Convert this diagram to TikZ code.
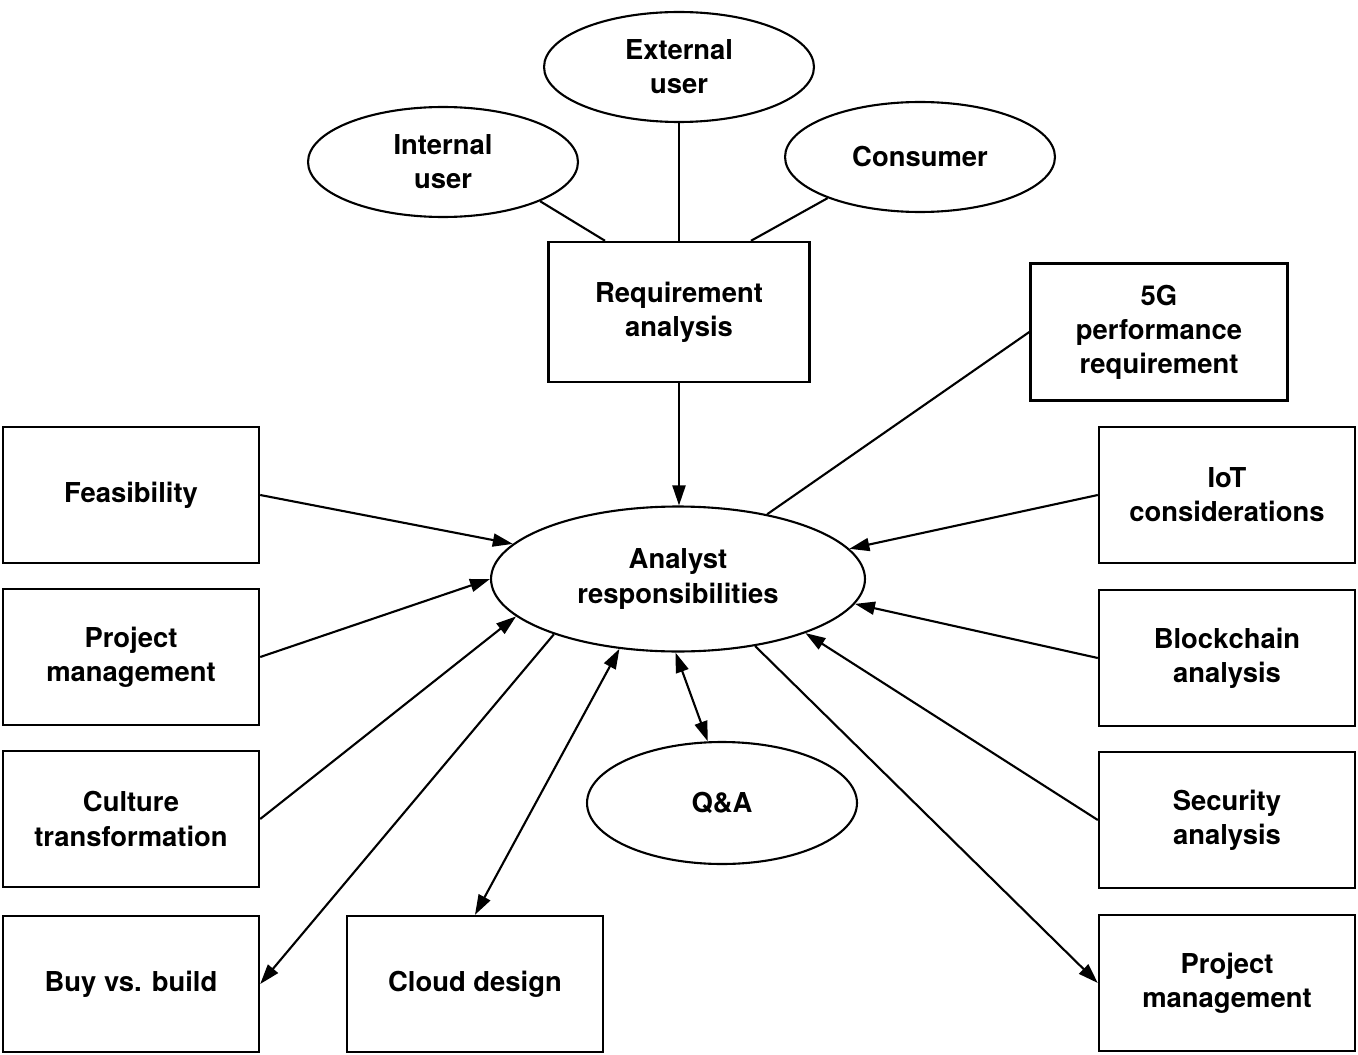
\documentclass[tikz,border=0pt]{standalone}
\usepackage{fontspec}
\setmainfont{TeX Gyre Heros}
\usetikzlibrary{shapes.geometric,arrows.meta}
\tikzset{
  box/.style={draw, line width=1.4pt, minimum width=5.12cm, minimum height=2.72cm, align=center, inner sep=2pt},
  oval/.style={draw, ellipse, line width=1.2pt, minimum width=5.4cm, minimum height=2.2cm, align=center, inner sep=0pt},
  conn/.style={line width=1.2pt},
  arr/.style={conn, -{Triangle[length=0.4cm,width=0.26cm]}},
  darr/.style={conn, {Triangle[length=0.4cm,width=0.26cm]}-{Triangle[length=0.4cm,width=0.26cm]}}
}
\begin{document}
\begin{tikzpicture}[x=0.02cm, y=-0.02cm, font=\fontsize{15.6}{19.4}\selectfont\bfseries]
\useasboundingbox (0,0) rectangle (1358,1054);

\node[oval] (ext) at (679,67) {External\\user};
\node[oval] (iu) at (443,162) {Internal\\user};
\node[oval] (co) at (920,157) {Consumer};
\node[box, minimum width=5.22cm, minimum height=2.8cm] (req) at (679,312) {Requirement\\analysis};
\node[box, minimum width=5.14cm, minimum height=2.74cm] (fg) at (1159,332) {5G\\performance\\requirement};
\node[oval, minimum width=7.48cm, minimum height=2.9cm] (an) at (678,579) {Analyst\\responsibilities};
\node[oval, minimum height=2.44cm] (qa) at (722,803) {Q\&A};

\node[box] (fe) at (131,495) {Feasibility};
\node[box] (pml) at (131,657) {Project\\management};
\node[box] (ct) at (131,819) {Culture\\transformation};
\node[box] (bb) at (131,984) {Buy vs. build};
\node[box] (cd) at (475,984) {Cloud design};

\node[box] (iot) at (1227,495) {IoT\\considerations};
\node[box] (bc) at (1227,658) {Blockchain\\analysis};
\node[box] (sa) at (1227,820) {Security\\analysis};
\node[box] (pmr) at (1227,983) {Project\\management};

% users to requirement analysis
\draw[conn] (iu.-22) -- (req.north -| 605,0);
\draw[conn] (ext.south) -- (req.north -| ext.south);
\draw[conn] (co.204) -- (req.north -| 751,0);
\draw[arr] (req.south) -- (an.north -| req.south);
\draw[conn] (fg.west) -- (an.36);

% left side
\draw[arr] (fe.east) -- (an.168);
\draw[arr] (pml.east) -- (an.west);
\draw[arr] (ct.east) -- (an.193);
\draw[arr] (an.204) -- (bb.east);
\draw[darr] (cd.north) -- (an.230);
\draw[darr] (an.268) -- (qa.103);

% right side
\draw[arr] (iot.west) -- (an.10);
\draw[arr] (bc.west) -- (an.352);
\draw[arr] (sa.west) -- (an.337);
\draw[arr] (an.319) -- (pmr.west);
\end{tikzpicture}
\end{document}
